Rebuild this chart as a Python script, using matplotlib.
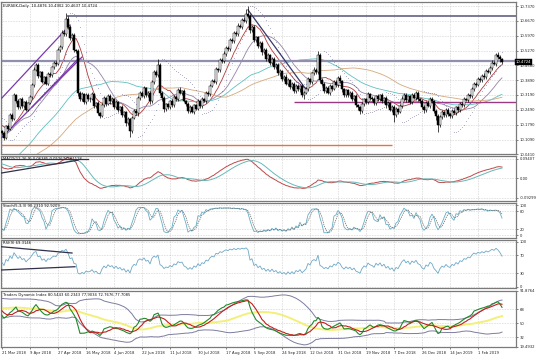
import numpy as np
import pandas as pd
import matplotlib
matplotlib.use("Agg")
import matplotlib.pyplot as plt

# ---------------- data ----------------
TITLE = "EURSEK,Daily  10.4876 10.4902 10.4637 10.4724"
PRE_CLOSE = [
    9.930, 9.945, 9.960, 9.952, 9.975, 9.968, 9.955, 9.940, 9.925, 9.930,
    9.845, 9.832, 9.840, 9.855, 9.838, 9.825, 9.812, 9.830, 9.845, 9.820,
    9.818, 9.800, 9.812, 9.795, 9.808, 9.822, 9.840, 9.835, 9.850, 9.870,
    9.862, 9.885, 9.902, 9.930, 9.910, 9.945, 9.962, 9.980, 9.955, 9.970,
    9.990, 10.015, 10.032, 10.050, 10.070, 10.045, 10.080, 10.110, 10.095, 10.130,
    10.160, 10.190, 10.215, 10.205, 10.180, 10.195, 10.170, 10.150, 10.165, 10.148]
CLOSE = [
    10.140, 10.118, 10.172, 10.160, 10.225, 10.205, 10.318, 10.290, 10.262, 10.300,
    10.268, 10.285, 10.250, 10.282, 10.310, 10.365, 10.436, 10.462, 10.410, 10.425,
    10.380, 10.402, 10.372, 10.418, 10.412, 10.448, 10.470, 10.465, 10.530, 10.545,
    10.612, 10.605, 10.675, 10.640, 10.585, 10.600, 10.530, 10.525, 10.330, 10.300,
    10.322, 10.285, 10.318, 10.298, 10.302, 10.322, 10.268, 10.280, 10.235, 10.222,
    10.270, 10.305, 10.278, 10.315, 10.288, 10.300, 10.262, 10.285, 10.250, 10.262,
    10.225, 10.238, 10.185, 10.205, 10.150, 10.212, 10.245, 10.232, 10.305, 10.330,
    10.315, 10.352, 10.318, 10.330, 10.290, 10.380, 10.425, 10.412, 10.462, 10.330,
    10.305, 10.252, 10.275, 10.262, 10.292, 10.270, 10.310, 10.298, 10.342, 10.330,
    10.338, 10.292, 10.278, 10.245, 10.262, 10.240, 10.270, 10.255, 10.290, 10.268,
    10.300, 10.292, 10.330, 10.322, 10.362, 10.385, 10.380, 10.440, 10.435, 10.483,
    10.478, 10.512, 10.540, 10.535, 10.577, 10.572, 10.612, 10.605, 10.645, 10.640,
    10.672, 10.668, 10.700, 10.690, 10.624, 10.640, 10.575, 10.590, 10.548, 10.565,
    10.520, 10.530, 10.488, 10.505, 10.470, 10.490, 10.452, 10.462, 10.420, 10.432,
    10.395, 10.405, 10.372, 10.390, 10.355, 10.372, 10.338, 10.362, 10.345, 10.360,
    10.318, 10.330, 10.345, 10.392, 10.378, 10.420, 10.436, 10.425, 10.505, 10.389,
    10.372, 10.338, 10.352, 10.330, 10.362, 10.348, 10.380, 10.365, 10.400, 10.385,
    10.345, 10.319, 10.340, 10.318, 10.330, 10.298, 10.312, 10.272, 10.260, 10.242,
    10.275, 10.298, 10.285, 10.322, 10.305, 10.300, 10.282, 10.315, 10.298, 10.318,
    10.290, 10.305, 10.270, 10.282, 10.250, 10.262, 10.225, 10.252, 10.240, 10.268,
    10.300, 10.320, 10.295, 10.312, 10.285, 10.318, 10.305, 10.328, 10.300, 10.292,
    10.262, 10.248, 10.280, 10.268, 10.302, 10.290, 10.245, 10.218, 10.178, 10.215,
    10.238, 10.225, 10.250, 10.228, 10.220, 10.245, 10.235, 10.260, 10.248, 10.278,
    10.272, 10.300, 10.296, 10.318, 10.314, 10.345, 10.372, 10.366, 10.392, 10.388,
    10.410, 10.405, 10.432, 10.428, 10.445, 10.470, 10.466, 10.505, 10.498, 10.4876,
    10.4724]
# wicks in 1/1000 price units
UP_PRE = [6,8,5,9,7,4,10,6,8,5, 7,9,6,5,8,11,6,7,5,9, 8,6,10,7,5,8,6,9,7,12,
          6,8,5,10,7,9,6,11,8,7, 9,6,12,8,10,7,9,13,8,11, 10,12,9,7,11,8,10,6,9,8]
DN_PRE = [7,5,9,6,8,10,5,7,9,6, 8,5,10,7,6,9,8,5,11,7, 6,9,7,8,10,6,9,5,8,7,
          10,6,9,7,8,5,11,7,9,6, 8,10,7,9,6,11,8,7,10,9, 8,7,11,9,12,8,10,9,7,11]
UP_VIS = [5,8,6,9,7,10,12,6,8,5, 7,6,9,5,8,10,14,9,6,7,
          6,8,5,9,7,8,10,9,11,8, 12,10,30,14,9,8,10,7,9,8,
          9,6,10,8,5,9,7,6,8,5, 10,9,6,8,7,9,5,8,6,7,
          8,6,5,9,7,10,8,9,7,6, 9,8,5,7,6,11,9,10,28,8,
          7,9,6,8,5,9,7,10,8,12, 6,8,5,7,9,6,8,5,9,7,
          8,6,9,7,10,8,11,9,7,10, 8,12,9,7,10,8,6,9,11,8,
          10,12,25,35,9,7,10,8,6,9, 7,11,8,10,6,9,7,8,5,9,
          6,8,10,7,5,9,8,6,10,7, 8,6,9,10,7,8,12,9,20,10,
          8,6,9,7,10,5,8,9,7,11, 6,8,9,5,7,8,6,9,5,8,
          10,8,7,9,6,10,8,5,9,7, 8,6,10,7,5,9,8,10,6,9,
          12,9,7,8,6,9,10,7,8,5, 7,9,10,8,6,9,7,8,10,9,
          8,6,9,7,5,8,10,6,9,7, 8,9,6,10,7,12,10,8,9,11,
          8,12,10,9,11,14,10,12,18,8, 3]
DN_VIS = [9,12,6,8,7,9,6,10,8,7, 9,10,6,8,7,9,8,6,10,9,
          7,9,8,6,10,7,9,8,6,7, 9,8,10,12,9,10,8,9,15,12,
          10,8,9,7,11,8,10,9,12,10, 8,7,9,8,10,7,9,8,11,9,
          10,9,12,8,30,9,7,8,10,9, 8,10,9,7,12,8,9,7,10,11,
          14,12,9,8,10,7,9,8,10,9, 11,8,9,10,12,8,9,7,8,10,
          9,8,10,7,9,8,7,10,8,9, 7,8,9,10,8,7,9,8,10,7,
          9,8,10,9,12,10,9,8,10,9, 11,8,10,9,8,10,9,11,8,10,
          9,10,8,11,9,10,8,9,10,12, 11,18,9,8,10,9,8,10,9,14,
          10,9,11,8,10,9,8,7,9,10, 12,11,9,10,8,10,9,11,10,12,
          9,10,8,9,10,8,9,10,8,9, 10,9,11,10,9,12,35,9,10,8,
          9,8,10,9,8,10,7,9,10,11, 10,12,9,8,10,9,12,15,35,10,
          9,8,10,9,11,8,7,9,8,10, 9,8,7,9,8,10,9,8,7,10,
          8,9,10,8,9,10,8,9,10,12, 9]

DATE_LABELS = ["21 Mar 2018", "9 Apr 2018", "27 Apr 2018", "16 May 2018", "4 Jun 2018",
               "22 Jun 2018", "11 Jul 2018", "30 Jul 2018", "17 Aug 2018", "5 Sep 2018",
               "24 Sep 2018", "12 Oct 2018", "31 Oct 2018", "19 Nov 2018", "7 Dec 2018",
               "26 Dec 2018", "14 Jan 2019", "1 Feb 2019"]
DATE_BARS = [14 * k for k in range(len(DATE_LABELS))]

MAIN_TICKS = [10.7370, 10.6670, 10.5970, 10.5270, 10.4580, 10.3890, 10.3190, 10.2490, 10.1790, 10.1090, 10.0410]
MAIN_YLIM = (10.0410, 10.7560)
LAST_PRICE = 10.4724
MACD_TICKS = [0.09407, 0.0, -0.09299]
MACD_TICKLABELS = ["0.09407", "0.00", "-0.09299"]
STO_TICKS = [100, 80, 20, 0]
RSI_TICKS = [100, 70, 30, 0]
TDI_TICKS = [91.8764, 68, 50, 32, 19.4932]
TDI_TICKLABELS = ["91.8764", "68", "50", "32", "19.4932"]

# horizontal levels (price, start bar, end bar, colour, width)
HLINES = [(10.691, 32.5, 257, "#6e6e8c", 1.3),
          (10.478, -0.5, 257, "#9090ae", 1.6),
          (10.285, 146, 257, "#9a3a82", 1.0),
          (10.083, -0.5, 195, "#e8743c", 1.0)]
# trend lines (bar0, val0, bar1, val1, colour)
MAIN_TL = [(-0.2, 10.303, 34, 10.648, "#7a3aa8"),
           (-0.2, 10.118, 40, 10.497, "#7a3aa8"),
           (15, 10.262, 37.5, 10.483, "#7a3aa8"),
           (123, 10.719, 152.3, 10.341, "#38386e")]
MACD_TL = [(-0.5, 0.093, 43, 0.093), (-0.5, 0.025, 38, 0.086)]
RSI_TL = [(-0.5, 88.9, 35, 74.9), (-0.5, 37.1, 36.5, 44.4)]

LBL_MACD = "MACD(12,26,9) 0.06385 0.05267 0.01118"
LBL_STO = "Stoch(5,3,3) 90.2310 92.9209"
LBL_RSI = "RSI(9) 69.3146"
LBL_TDI = "Traders Dynamic Index 80.5443 60.2343 77.9034 72.7676 77.7085"

# ---------------- derived series ----------------
npre = len(PRE_CLOSE)
c = np.array(PRE_CLOSE + CLOSE)
o = np.r_[c[0], c[:-1]]
h = np.maximum(o, c) + np.array(UP_PRE + UP_VIS) / 1000.0
l = np.minimum(o, c) - np.array(DN_PRE + DN_VIS) / 1000.0
idx = np.arange(len(c)) - npre
cs = pd.Series(c)

def sma(s, n):
    return s.rolling(n).mean().values

ema12 = cs.ewm(span=12, adjust=False).mean()
ema26 = cs.ewm(span=26, adjust=False).mean()
macd = (ema12 - ema26)
macd_sig = macd.rolling(9).mean()

def wilder_rsi(s, n):
    d = s.diff()
    up = d.clip(lower=0).ewm(alpha=1.0 / n, adjust=False).mean()
    dn = (-d.clip(upper=0)).ewm(alpha=1.0 / n, adjust=False).mean()
    return 100 - 100 / (1 + up / dn)

rsi9 = wilder_rsi(cs, 9)
hh = pd.Series(h).rolling(5).max()
ll = pd.Series(l).rolling(5).min()
sto_main = 100 * (cs - ll).rolling(3).sum() / (hh - ll).rolling(3).sum()
sto_sig = sto_main.rolling(3).mean()

rsi13 = wilder_rsi(cs, 13)
tdi_green = rsi13.rolling(2).mean()
tdi_red = rsi13.rolling(7).mean()
tdi_mb = rsi13.rolling(34).mean()
tdi_sd = rsi13.rolling(34).std(ddof=0)
tdi_up = tdi_mb + 1.6185 * tdi_sd
tdi_dn = tdi_mb - 1.6185 * tdi_sd


def psar(hi, lo, step=0.02, mx=0.2):
    n = len(hi)
    sar = np.zeros(n)
    up = True
    af = step
    ep = hi[0]
    sar[0] = lo[0]
    for i in range(1, n):
        s = sar[i - 1] + af * (ep - sar[i - 1])
        if up:
            s = min(s, lo[i - 1], lo[max(i - 2, 0)])
            if lo[i] < s:
                up, s, ep, af = False, ep, lo[i], step
            elif hi[i] > ep:
                ep = hi[i]
                af = min(af + step, mx)
        else:
            s = max(s, hi[i - 1], hi[max(i - 2, 0)])
            if hi[i] > s:
                up, s, ep, af = True, ep, hi[i], step
            elif lo[i] < ep:
                ep = lo[i]
                af = min(af + step, mx)
        sar[i] = s
    return sar

sar = psar(h, l)
vis = idx >= 0

# ---------------- figure ----------------
W, H = 536, 357
fig = plt.figure(figsize=(W / 100, H / 100), dpi=100)
fig.patch.set_facecolor("white")
X0, X1 = 1, 516
FS = 2.7
GRID = dict(color="#b8b8b8", lw=0.45, ls=(0, (1, 1.6)))


def pax(y0, y1):
    ax = fig.add_axes([X0 / W, 1 - y1 / H, (X1 - X0) / W, (y1 - y0) / H])
    ax.set_xlim(-0.5, 257)
    ax.set_facecolor("white")
    for sp in ax.spines.values():
        sp.set_color("#7a7a7a")
        sp.set_linewidth(0.9)
    ax.yaxis.tick_right()
    ax.tick_params(axis="y", labelsize=FS, length=1.5, width=0.4, pad=1, colors="#222222")
    ax.tick_params(axis="x", bottom=False, labelbottom=False)
    for b in DATE_BARS:
        ax.axvline(b, **GRID, zorder=0)
    return ax


def yticks(ax, vals, labels=None):
    ax.set_yticks(vals)
    ax.set_yticklabels(labels if labels else [str(v) for v in vals])
    for v in vals:
        ax.axhline(v, **GRID, zorder=0)


# main panel
ax = pax(2, 154)
ax.set_ylim(*MAIN_YLIM)
yticks(ax, MAIN_TICKS, ["%.4f" % v for v in MAIN_TICKS])
xv = idx[vis]
ov, cv, hv, lv = o[vis], c[vis], h[vis], l[vis]
ax.vlines(xv, lv, hv, color="black", lw=0.5, zorder=3)
bull = cv >= ov
body = np.maximum(np.abs(cv - ov), 0.0008)
ax.bar(xv[bull], body[bull], bottom=np.minimum(ov, cv)[bull], width=0.7,
       color="white", edgecolor="black", linewidth=0.35, zorder=4)
ax.bar(xv[~bull], body[~bull], bottom=np.minimum(ov, cv)[~bull], width=0.7,
       color="black", edgecolor="black", linewidth=0.35, zorder=4)
for n, col in [(10, "#b23a3a"), (21, "#9484aa"), (50, "#5fc0c0"), (75, "#d6a87c")]:
    ax.plot(idx, sma(cs, n), color=col, lw=0.6, zorder=2)
ax.scatter(idx[vis], sar[vis], s=0.12, color="#1c1c6a", zorder=5, linewidths=0)
for val, b0, b1, col, lw in HLINES:
    ax.plot([b0, b1], [val, val], color=col, lw=lw, zorder=2.5, solid_capstyle="butt")
for b0, v0, b1, v1, col in MAIN_TL:
    ax.plot([b0, b1], [v0, v1], color=col, lw=0.9, zorder=2.6)
ax.text(0.004, 0.985, TITLE, transform=ax.transAxes, fontsize=FS, va="top", ha="left", color="#111111")
ax.text(1.0, LAST_PRICE, "%.4f" % LAST_PRICE, transform=ax.get_yaxis_transform(), fontsize=FS,
        color="white", va="center", ha="left", zorder=10,
        bbox=dict(boxstyle="square,pad=0.25", fc="black", ec="black", lw=0.3), clip_on=False)

# MACD
ax = pax(156, 201)
ax.set_ylim(-0.1074, 0.1060)
yticks(ax, MACD_TICKS, MACD_TICKLABELS)
ax.bar(idx[vis], macd.values[vis], width=0.45, color="#c4c4c4", zorder=1)
ax.plot(idx[vis], macd.values[vis], color="#c04848", lw=0.7, zorder=3)
ax.plot(idx[vis], macd_sig.values[vis], color="#68b8b8", lw=0.7, zorder=3)
for b0, v0, b1, v1 in MACD_TL:
    ax.plot([b0, b1], [v0, v1], color="#30304a", lw=0.9, zorder=4)
ax.text(0.004, 0.97, LBL_MACD, transform=ax.transAxes, fontsize=FS, va="top", ha="left", color="#111111")

# Stochastic
ax = pax(203, 238)
ax.set_ylim(-10, 108)
yticks(ax, STO_TICKS)
ax.plot(idx[vis], sto_main.values[vis], color="#64aec6", lw=0.6, zorder=3)
ax.plot(idx[vis], sto_sig.values[vis], color="#6a6a6a", lw=0.5, ls=(0, (2, 1.2)), zorder=3)
ax.text(0.004, 0.96, LBL_STO, transform=ax.transAxes, fontsize=FS, va="top", ha="left", color="#111111")

# RSI
ax = pax(240, 288)
ax.set_ylim(-2.9, 103.8)
yticks(ax, RSI_TICKS)
ax.plot(idx[vis], rsi9.values[vis], color="#6ea8c6", lw=0.6, zorder=3)
for b0, v0, b1, v1 in RSI_TL:
    ax.plot([b0, b1], [v0, v1], color="#30304a", lw=0.9, zorder=4)
ax.text(0.004, 0.97, LBL_RSI, transform=ax.transAxes, fontsize=FS, va="top", ha="left", color="#111111")

# TDI
ax = pax(291, 347)
ax.set_ylim(TDI_TICKS[-1], TDI_TICKS[0])
yticks(ax, TDI_TICKS, TDI_TICKLABELS)
ax.plot(idx[vis], tdi_up.values[vis], color="#7c7ca0", lw=0.7, zorder=2)
ax.plot(idx[vis], tdi_dn.values[vis], color="#7c7ca0", lw=0.7, zorder=2)
ax.plot(idx[vis], tdi_mb.values[vis], color="#f2f07a", lw=1.4, zorder=2)
ax.plot(idx[vis], tdi_green.values[vis], color="#1f8a2a", lw=0.8, zorder=3)
ax.plot(idx[vis], tdi_red.values[vis], color="#c41e1e", lw=0.8, zorder=4)
ax.text(0.004, 0.97, LBL_TDI, transform=ax.transAxes, fontsize=FS, va="top", ha="left", color="#111111")
ax.tick_params(axis="x", bottom=True, labelbottom=True, labelsize=FS, length=1.5, width=0.4, pad=1.5,
               colors="#222222")
ax.set_xticks(DATE_BARS)
ax.set_xticklabels(DATE_LABELS)
for t in ax.get_xticklabels():
    t.set_ha("left")

fig.savefig("out.png", dpi=100, facecolor="white")
